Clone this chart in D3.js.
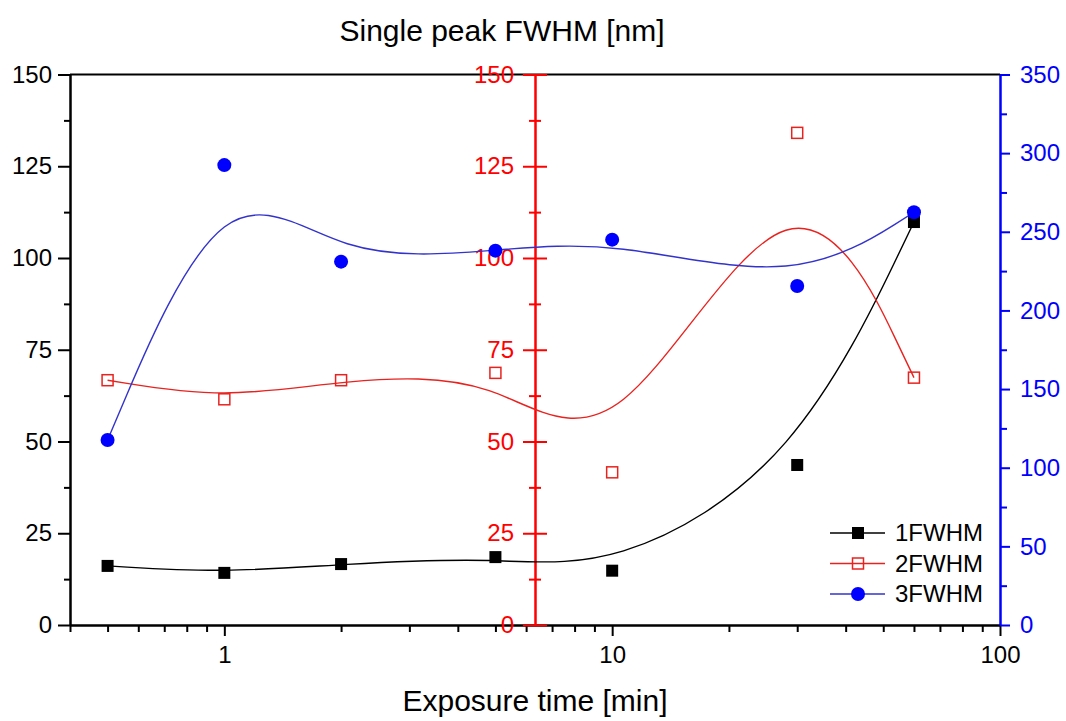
<!DOCTYPE html>
<html lang="en">
<head>
<meta charset="UTF-8">
<title>Single peak FWHM</title>
<script src="https://d3js.org/d3.v7.min.js"></script>
<style>
  body { margin: 0; background: #fff; }
  text { font-family: "Liberation Sans", Arial, sans-serif; }
</style>
</head>
<body>
<div id="chart"></div>
<script>

// data
var times  = [0.5, 1, 2, 5, 10, 30, 60];
var fwhm1  = [16.1, 14.2, 16.6, 18.5, 14.8, 43.6, 109.8];   // left axis
var fwhm2  = [66.7, 61.5, 66.7, 68.7, 41.6, 134.1, 67.4];   // middle (red) axis
var fwhm3  = [117.6, 292.4, 231, 238, 245, 215.5, 262.4];  // right (blue) axis
var seriesNames = ["1FWHM", "2FWHM", "3FWHM"];
var leftTicks  = [0, 25, 50, 75, 100, 125, 150];
var rightTicks = [0, 50, 100, 150, 200, 250, 300, 350];
var xTicks = [1, 10, 100];

var W = 1066, H = 721;
var margin = {top: 74.5, right: 66, bottom: 96, left: 70},
    width = W - margin.left - margin.right,
    height = H - margin.top - margin.bottom;

var svg = d3.select("#chart").append("svg")
    .attr("width", W).attr("height", H)
  .append("g")
    .attr("transform", "translate(" + margin.left + "," + margin.top + ")");

var x = d3.scaleLog().domain([0.4, 100]).range([0, width]);
var yL = d3.scaleLinear().domain([0, 150]).range([height, 0]);
var yR = d3.scaleLinear().domain([0, 350]).range([height, 0]);

var RED = "#ff0000", BLUE = "#0000ff";

// minor tick values
function halves(ticks) {
  var out = [];
  for (var i = 0; i < ticks.length - 1; i++) out.push((ticks[i] + ticks[i+1]) / 2);
  return out;
}
var xMinor = [];
[0.1, 1, 10].forEach(function(d) {
  for (var k = 2; k <= 9; k++) { var v = d * k; if (v >= 0.4 && v < 100) xMinor.push(v); }
});

function styleAxis(g, color, size) {
  g.select(".domain").attr("stroke", color).attr("stroke-width", 2);
  g.selectAll(".tick line").attr("stroke", color).attr("stroke-width", 2);
  g.selectAll(".tick text").attr("fill", color).style("font-size", size + "px")
    .style("font-family", "'Liberation Sans', Arial, sans-serif");
}

// top border
svg.append("line")
  .attr("x1", 0).attr("x2", width).attr("y1", 0).attr("y2", 0)
  .attr("stroke", "#000").attr("stroke-width", 2);

// bottom axis (log)
var gx = svg.append("g").attr("transform", "translate(0," + height + ")")
  .call(d3.axisBottom(x).tickValues(xTicks).tickFormat(d3.format("d")).tickSize(11).tickSizeOuter(0).tickPadding(10));
styleAxis(gx, "#000", 24);
var gxm = svg.append("g").attr("transform", "translate(0," + height + ")")
  .call(d3.axisBottom(x).tickValues(xMinor).tickFormat("").tickSize(7).tickSizeOuter(0));
styleAxis(gxm, "#000", 24);

// left axis
var gl = svg.append("g")
  .call(d3.axisLeft(yL).tickValues(leftTicks).tickSize(12).tickSizeOuter(0).tickPadding(6));
styleAxis(gl, "#000", 24);
var glm = svg.append("g")
  .call(d3.axisLeft(yL).tickValues(halves(leftTicks)).tickFormat("").tickSize(6).tickSizeOuter(0));
styleAxis(glm, "#000", 24);

// right axis
var gr = svg.append("g").attr("transform", "translate(" + width + ",0)")
  .call(d3.axisRight(yR).tickValues(rightTicks).tickSize(10).tickSizeOuter(0).tickPadding(10));
styleAxis(gr, BLUE, 24);
var grm = svg.append("g").attr("transform", "translate(" + width + ",0)")
  .call(d3.axisRight(yR).tickValues(halves(rightTicks)).tickFormat("").tickSize(7).tickSizeOuter(0));
styleAxis(grm, BLUE, 24);

// middle red axis, ticks crossing the line
var gm = svg.append("g").attr("transform", "translate(" + (width / 2) + ",0)")
  .call(d3.axisLeft(yL).tickValues(leftTicks).tickSize(12).tickSizeOuter(0).tickPadding(9));
gm.selectAll(".tick line").attr("x1", 12);
styleAxis(gm, RED, 24);
var gmm = svg.append("g").attr("transform", "translate(" + (width / 2) + ",0)")
  .call(d3.axisLeft(yL).tickValues(halves(leftTicks)).tickFormat("").tickSize(6).tickSizeOuter(0));
gmm.selectAll(".tick line").attr("x1", 6);
styleAxis(gmm, RED, 24);

// series
var series = [
  {name: seriesNames[0], vals: fwhm1, y: yL, line: "#000000", mark: "fsq"},
  {name: seriesNames[1], vals: fwhm2, y: yL, line: "#e8231f", mark: "osq"},
  {name: seriesNames[2], vals: fwhm3, y: yR, line: "#3333cc", mark: "dot"}
];

function drawMarker(g, type, cx, cy) {
  if (type === "fsq") {
    g.append("rect").attr("x", cx - 6).attr("y", cy - 6).attr("width", 12).attr("height", 12)
      .attr("fill", "#000");
  } else if (type === "osq") {
    g.append("rect").attr("x", cx - 5.5).attr("y", cy - 5.5).attr("width", 11).attr("height", 11)
      .attr("fill", "none").attr("stroke", "#e8231f").attr("stroke-width", 1.5);
  } else {
    g.append("circle").attr("cx", cx).attr("cy", cy).attr("r", 7).attr("fill", BLUE);
  }
}

series.forEach(function(s) {
  var pts = times.map(function(t, i) { return [x(t), s.y(s.vals[i])]; });
  svg.append("path")
    .attr("d", d3.line().curve(d3.curveBasis)(pts))
    .attr("fill", "none")
    .attr("stroke", s.line)
    .attr("stroke-width", 1.4);
  var g = svg.append("g");
  pts.forEach(function(p) { drawMarker(g, s.mark, p[0], p[1]); });
});

// legend
var legend = svg.append("g").attr("transform", "translate(" + (830 - margin.left) + "," + (533 - margin.top) + ")");
series.forEach(function(s, i) {
  var row = legend.append("g").attr("transform", "translate(0," + (i * 30.5) + ")");
  row.append("line").attr("x1", 0).attr("x2", 55).attr("y1", 0).attr("y2", 0)
    .attr("stroke", s.line).attr("stroke-width", 1.4);
  drawMarker(row, s.mark, 28, 0);
  row.append("text").attr("x", 65).attr("y", 0).attr("dy", "0.35em")
    .style("font-size", "24px").text(s.name);
});

// titles
svg.append("text")
  .attr("x", 502 - margin.left).attr("y", 41 - margin.top)
  .style("text-anchor", "middle").style("font-size", "30px")
  .text("Single peak FWHM [nm]");

svg.append("text")
  .attr("x", 535 - margin.left).attr("y", 711 - margin.top)
  .style("text-anchor", "middle").style("font-size", "30px")
  .text("Exposure time [min]");

</script>
</body>
</html>
